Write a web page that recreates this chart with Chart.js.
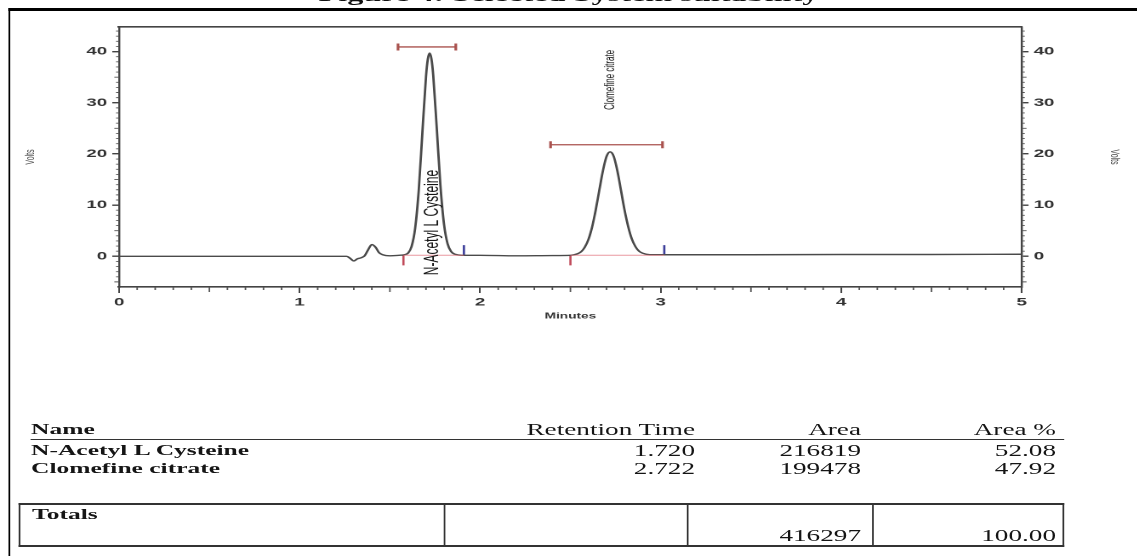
<!DOCTYPE html>
<html>
<head>
<meta charset="utf-8">
<script src="https://cdn.jsdelivr.net/npm/chart.js@4.4.1/dist/chart.umd.min.js"></script>
<style>
  html, body { margin: 0; padding: 0; background: #fff; overflow: hidden; width: 1137px; height: 556px; }
  /* the whole figure is laid out narrow and widened as one piece */
  #page { position: absolute; left: 0; top: 0; height: 556px; transform-origin: 0 0; }
  #frame { position: absolute; top: 8px; width: 900px; height: 700px; border-top: 3px solid #000; border-left: 1.8px solid #000; }
  #title { position: absolute; top: -16px; left: 0; right: 0; text-align: center; white-space: nowrap;
           font: bold 19px 'Liberation Serif', 'Times New Roman', serif; color: #111; }
  #chartBox { position: absolute; left: 0; top: 0; height: 330px; }
  .cell { position: absolute; white-space: nowrap; line-height: 18px; height: 18px; color: #151515;
          font: 16px 'Liberation Serif', 'Times New Roman', serif; }
  .cell.b { font-weight: bold; font-size: 15px; }
  .rule { position: absolute; background: #333; }
</style>
</head>
<body>
<div id="page">
  <div id="title">Figure 4: Selected System suitability</div>
  <div id="frame"></div>
  <div id="chartBox"><canvas id="chrom"></canvas></div>
  <div id="table"></div>
</div>
<script>
// detector trace, minutes vs volts
const traceTime = [0, 0.5, 1.0, 1.26,
  1.28, 1.30, 1.32, 1.34, 1.36, 1.38, 1.40, 1.42, 1.44, 1.46,
  1.50, 1.55, 1.58, 1.60, 1.62, 1.64, 1.66, 1.68, 1.70, 1.71,
  1.72, 1.73, 1.74, 1.76, 1.78, 1.80, 1.82, 1.84, 1.86, 1.90,
  2.0, 2.2, 2.4, 2.5, 2.54, 2.56, 2.58, 2.60, 2.62, 2.64,
  2.66, 2.68, 2.70, 2.72, 2.74, 2.76, 2.78, 2.80, 2.82, 2.84,
  2.86, 2.88, 2.90, 2.94, 3.0, 3.5, 4.0, 4.5, 5.0];
const traceVolts = [0, 0, 0, 0,
  -0.4, -0.9, -0.5, -0.3, 0.1, 1.3, 2.3, 1.8, 0.7, 0.3,
  0.1, 0.2, 0.3, 0.6, 1.9, 5.5, 13.0, 24.2, 35.1, 38.5,
  39.7, 38.6, 35.4, 24.8, 13.8, 6.2, 2.4, 0.9, 0.4, 0.2,
  0.2, 0.1, 0.15, 0.2, 0.5, 0.9, 1.8, 3.3, 5.7, 9.0,
  12.9, 16.7, 19.5, 20.4, 19.5, 16.7, 12.9, 9.0, 5.8, 3.4,
  1.9, 1.0, 0.6, 0.3, 0.3, 0.3, 0.35, 0.35, 0.4];

// integration events per peak
const peakNames = ['N-Acetyl L Cysteine', 'Clomefine citrate'];
const retentionTime = [1.720, 2.722];
const peakArea = [216819, 199478];
const peakAreaPct = [52.08, 47.92];
const widthStart = [1.545, 2.39];
const widthEnd = [1.865, 3.01];
const widthLevel = [40.9, 21.8];
const baseStart = [1.575, 2.50];
const baseEnd = [1.91, 3.02];
const baseLevel = 0.2;

const xTickValues = [0, 1, 2, 3, 4, 5];
const yTickValues = [0, 10, 20, 30, 40];

const S = 1.7;                 // horizontal widening of the whole figure
const W = 1137 / S;
const ix = v => v / S;         // screen x -> layout x

const page = document.getElementById('page');
page.style.width = W + 'px';
page.style.transform = `scaleX(${S})`;
document.getElementById('frame').style.left = ix(8) + 'px';
document.getElementById('chartBox').style.width = W + 'px';

const tickFont = { family: 'Liberation Sans', size: 11, weight: 'bold' };

function gapped(starts, ends, level) {
  const pts = [];
  starts.forEach((s, i) => {
    const lv = Array.isArray(level) ? level[i] : level;
    pts.push({ x: s, y: lv }, { x: ends[i], y: lv }, { x: ends[i], y: null });
  });
  return pts;
}

// small ticks between the labelled ones, on all three axes
const minorTicks = {
  id: 'minorTicks',
  afterDraw(chart) {
    const { ctx, scales: { x, y, y2 } } = chart;
    ctx.save();
    ctx.strokeStyle = '#555';
    ctx.lineWidth = 0.9;
    ctx.beginPath();
    for (let m = 1; m < 50; m++) {
      if (m % 10 === 0) continue;
      const px = x.getPixelForValue(m / 10);
      const len = m % 5 === 0 ? 5 : 3;
      ctx.moveTo(px, x.top);
      ctx.lineTo(px, x.top + len);
    }
    for (let v = -5; v <= 44; v++) {
      if (v % 10 === 0) continue;
      const py = y.getPixelForValue(v);
      const len = v % 5 === 0 ? 2.8 : 1.8;
      ctx.moveTo(y.right, py);
      ctx.lineTo(y.right - len, py);
      ctx.moveTo(y2.left, py);
      ctx.lineTo(y2.left + len, py);
    }
    ctx.stroke();
    ctx.restore();
  }
};

// vertical peak names next to each peak
const labelTime = [1.735, 2.72];
const labelFoot = [-3.7, 28.6];
const labelFont = ['12px "Liberation Sans", Arial, sans-serif', '8px "Liberation Sans", Arial, sans-serif'];
const peakLabels = {
  id: 'peakLabels',
  afterDatasetsDraw(chart) {
    const { ctx, scales: { x, y } } = chart;
    peakNames.forEach((name, i) => {
      ctx.save();
      ctx.translate(x.getPixelForValue(labelTime[i]), y.getPixelForValue(labelFoot[i]));
      ctx.rotate(-Math.PI / 2);
      ctx.font = labelFont[i];
      ctx.fillStyle = '#151515';
      ctx.textAlign = 'left';
      ctx.textBaseline = 'middle';
      ctx.fillText(name, 0, 0);
      ctx.restore();
    });
  }
};

const yAxis = (position, width, titlePad) => ({
  type: 'linear',
  position,
  min: -6,
  max: 44.8,
  afterBuildTicks: s => { s.ticks = yTickValues.map(v => ({ value: v })); },
  afterFit: s => { s.width = width; },
  ticks: { color: '#333', font: tickFont, padding: 3 },
  grid: { drawOnChartArea: false, drawTicks: true, tickLength: 4, color: '#444', lineWidth: 1.4 },
  border: { color: '#444', width: 1.2 },
  title: { display: true, text: 'Volts', color: '#444', font: { family: 'Liberation Sans', size: 7 },
           padding: { top: titlePad, bottom: 0 } }
});

new Chart(document.getElementById('chrom'), {
  type: 'scatter',
  data: {
    datasets: [
      {
        data: gapped(baseStart, baseEnd, baseLevel),
        showLine: true, borderColor: 'rgba(225,110,120,0.7)', borderWidth: 1,
        pointRadius: 0, spanGaps: false
      },
      {
        data: traceTime.map((t, i) => ({ x: t, y: traceVolts[i] })),
        showLine: true, borderColor: '#4a4a4a', borderWidth: 1.4,
        pointRadius: 0, cubicInterpolationMode: 'monotone'
      },
      {
        data: gapped(widthStart, widthEnd, widthLevel),
        showLine: true, borderColor: '#a9524e', borderWidth: 1.3, spanGaps: false,
        pointStyle: 'line', pointRotation: 90, pointRadius: 3.5,
        pointBorderColor: '#a9524e', pointBorderWidth: 1.6
      },
      {
        data: baseStart.map(t => ({ x: t, y: -0.8 })),
        showLine: false, pointStyle: 'line', pointRotation: 90, pointRadius: 5,
        pointBorderColor: '#c04a5a', pointBorderWidth: 1.3
      },
      {
        data: baseEnd.map(t => ({ x: t, y: 1.2 })),
        showLine: false, pointStyle: 'line', pointRotation: 90, pointRadius: 5,
        pointBorderColor: '#3d3f9a', pointBorderWidth: 1.3
      }
    ]
  },
  options: {
    responsive: true,
    maintainAspectRatio: false,
    animation: false,
    devicePixelRatio: 2,
    layout: { padding: 0 },
    plugins: { legend: { display: false }, tooltip: { enabled: false } },
    scales: {
      x: {
        type: 'linear', position: 'bottom', min: 0, max: 5,
        afterBuildTicks: s => { s.ticks = xTickValues.map(v => ({ value: v })); },
        afterFit: s => { s.height = 330 - 287; },
        ticks: { color: '#333', font: tickFont, padding: 3, maxRotation: 0, autoSkip: false },
        grid: { drawOnChartArea: false, drawTicks: true, tickLength: 6, color: '#444', lineWidth: 1 },
        border: { color: '#444', width: 1.6 },
        title: { display: true, text: 'Minutes', color: '#333',
                 font: { family: 'Liberation Sans', size: 8, weight: 'bold' }, padding: { top: 0, bottom: 9 } }
      },
      xTop: {
        type: 'linear', position: 'top', min: 0, max: 5,
        afterFit: s => { s.height = 27; },
        ticks: { display: false },
        grid: { display: false },
        border: { display: true, color: '#444', width: 1.6 }
      },
      y: yAxis('left', ix(119), 14),
      y2: yAxis('right', W - ix(1021), 9.5)
    }
  },
  plugins: [minorTicks, peakLabels]
});

// results table under the chromatogram
const table = document.getElementById('table');
function cell(text, x, yc, align, bold) {
  const d = document.createElement('div');
  d.className = 'cell' + (bold ? ' b' : '');
  d.textContent = text;
  d.style.top = (yc - 9) + 'px';
  if (align === 'right') d.style.right = (W - ix(x)) + 'px';
  else d.style.left = ix(x) + 'px';
  table.appendChild(d);
}
function rule(x1, x2, y1, y2) {
  const d = document.createElement('div');
  d.className = 'rule';
  d.style.left = ix(x1) + 'px';
  d.style.width = (ix(x2) - ix(x1)) + 'px';
  d.style.top = y1 + 'px';
  d.style.height = (y2 - y1) + 'px';
  table.appendChild(d);
}

const colName = 31, colRT = 695, colArea = 861, colPct = 1056;
cell('Name', colName, 430, 'left', true);
cell('Retention Time', colRT, 430, 'right');
cell('Area', colArea, 430, 'right');
cell('Area %', colPct, 430, 'right');
rule(colName, 1064, 438.5, 440);

const rowY = [451, 469];
peakNames.forEach((name, i) => {
  cell(name, colName, rowY[i], 'left', true);
  cell(retentionTime[i].toFixed(3), colRT, rowY[i], 'right');
  cell(String(peakArea[i]), colArea, rowY[i], 'right');
  cell(peakAreaPct[i].toFixed(2), colPct, rowY[i], 'right');
});

// totals box
const boxTop = 503, boxBottom = 547;
rule(18, 1064, boxTop, boxTop + 2);
rule(18, 1064, boxBottom - 2, boxBottom);
[18, 444, 687, 872, 1062].forEach(x => rule(x, x + 2, boxTop, boxBottom));
const totalArea = peakArea.reduce((a, b) => a + b, 0);
const totalPct = peakAreaPct.reduce((a, b) => a + b, 0);
cell('Totals', 32, 515, 'left', true);
cell(String(totalArea), colArea, 536, 'right');
cell(totalPct.toFixed(2), colPct, 536, 'right');
</script>
</body>
</html>
